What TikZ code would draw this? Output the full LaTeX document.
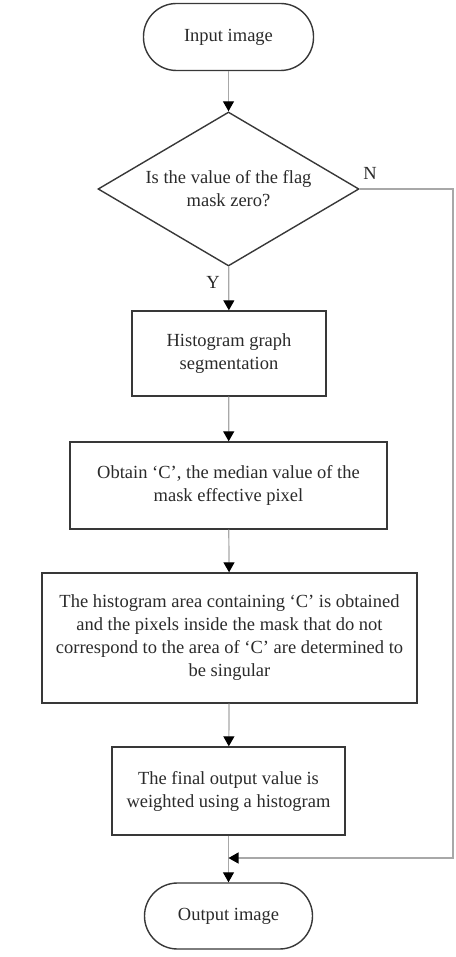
\documentclass[tikz,border=0pt]{standalone}
\usepackage{fontspec}
\setmainfont{Liberation Serif}
\usetikzlibrary{shapes.geometric,arrows.meta}
\definecolor{txt}{HTML}{2A2A2A}
\definecolor{edge}{HTML}{383838}
\definecolor{conn}{HTML}{A8A8A8}
\begin{document}
\begin{tikzpicture}[x=1pt,y=-1pt,
  every node/.style={font=\fontsize{18.5}{23}\selectfont, text=txt},
  term/.style={draw=edge, line width=1.4pt, rectangle, rounded corners=33pt, align=center, inner sep=0pt},
  procbox/.style={draw=edge, line width=1.4pt, rectangle, align=center, inner sep=0pt},
  decide/.style={draw=edge, line width=1.4pt, diamond, shape aspect=1.695, align=center, inner sep=0pt, minimum width=261pt, minimum height=154pt},
  conline/.style={draw=conn, line width=1.2pt, -{Triangle[width=11pt,length=10pt,color=black]}},
  lbl/.style={inner sep=0pt}
]
\useasboundingbox (0,0) rectangle (455,957);
\node[term, minimum width=170pt, minimum height=67pt] (in) at (228.5,37) {Input image};
\node[decide] (d) at (228.5,189) {Is the value of the flag\\mask zero?};
\node[procbox, minimum width=194pt, minimum height=85pt] (b1) at (229,353.5) {Histogram graph\\segmentation};
\node[procbox, minimum width=317pt, minimum height=87pt] (b2) at (228.5,485.5) {Obtain ‘C’, the median value of the\\mask effective pixel};
\node[procbox, minimum width=375pt, minimum height=130pt] (b3) at (229.5,638) {The histogram area containing ‘C’ is obtained\\and the pixels inside the mask that do not\\correspond to the area of ‘C’ are determined to\\be singular};
\node[procbox, minimum width=233pt, minimum height=88pt] (b4) at (228.5,791) {The final output value is\\weighted using a histogram};
\node[term, minimum width=168pt, minimum height=66pt] (out) at (228.5,916) {Output image};
\coordinate (m) at (228.5,858);
\coordinate (rt) at (453,189);
\node[lbl] (nl) at (370,173) {N};
\node[lbl] (yl) at (213,282) {Y};
\draw[conline] (in) -- (d);
\draw[conline] (d) -- (b1);
\draw[conline] (b1) -- (b2);
\draw[conline] (b2) -- (b3);
\draw[conline] (b3) -- (b4);
\draw[conline] (b4) -- (out);
\draw[conline] (d.east) -- (rt) |- (m);
\end{tikzpicture}
\end{document}
